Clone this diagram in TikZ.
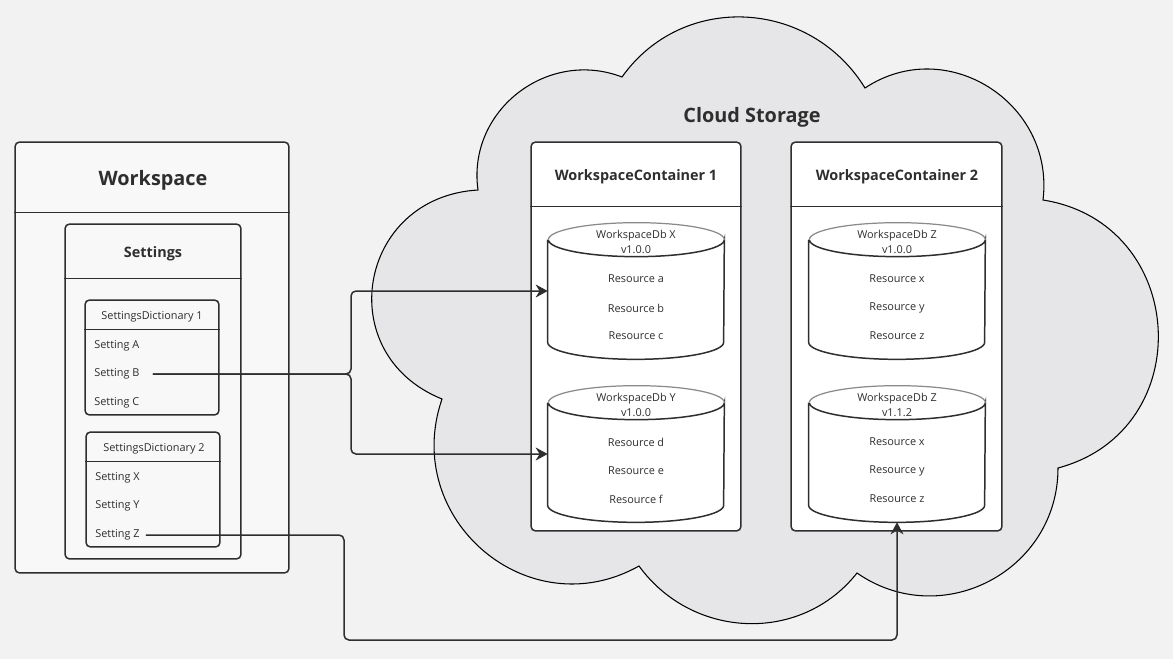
\documentclass[tikz,border=0pt]{standalone}
\usepackage{fontspec}
\setmainfont{Open Sans}
\usetikzlibrary{arrows.meta}

\definecolor{bggray}{HTML}{F2F2F2}
\definecolor{cloudgray}{HTML}{E6E6E8}
\definecolor{panelgray}{HTML}{F8F8F8}
\definecolor{inkgray}{HTML}{2E2E2E}
\definecolor{rimgray}{HTML}{8A8A8A}

\begin{document}
\begin{tikzpicture}[x=0.02cm,y=0.02cm,
  box/.style={draw=inkgray,line width=0.85pt,rounded corners=0.09cm,inner sep=0pt},
  head/.style={font=\fontsize{11.3}{13}\selectfont\bfseries,text=inkgray,yshift=-0.04cm},
  subhead/.style={font=\fontsize{8.2}{10}\selectfont\bfseries,text=inkgray,yshift=-0.04cm},
  entry/.style={font=\fontsize{6.2}{9}\selectfont,text=inkgray,align=center,yshift=-0.04cm},
  setting/.style={entry,anchor=west,inner xsep=0pt},
  dbbody/.style={minimum width=3.52cm,minimum height=2.72cm,inner sep=0pt},
  dbline/.style={draw=inkgray,line width=0.85pt},
  rimline/.style={draw=rimgray,line width=0.7pt},
  link/.style={draw=inkgray,line width=0.85pt,rounded corners=0.1cm,
    -{Stealth[length=0.24cm,width=0.26cm]}}
]

\fill[bggray] (0,0) rectangle (1173,-659);
\useasboundingbox (0,0) rectangle (1173,-659);

% cloud
\draw[fill=cloudgray,draw=black,line width=0.6pt]
  (478,-190) to[out=98,in=159,looseness=1.12] (622,-77)
  to[out=54.6,in=121.6,looseness=1.10] (865,-88)
  to[out=33.6,in=83,looseness=1.19] (1043,-200)
  to[out=-9,in=15,looseness=1.40] (1058,-468)
  to[out=-90,in=-34.8,looseness=1.16] (857,-573)
  to[out=-128.3,in=-54,looseness=1.06] (639,-566)
  to[out=-150.7,in=251,looseness=1.26] (442,-399)
  to[out=158,in=183.3,looseness=1.45] (478,-190) -- cycle;
\node[head] (cloudTitle) at (752,-115) {Cloud Storage};

% workspace
\node[box,fill=panelgray,minimum width=5.48cm,minimum height=8.62cm] (ws) at (152,-357.5) {};
\draw[dbline] ([yshift=-1.42cm]ws.north west) -- ([yshift=-1.42cm]ws.north east);
\node[head] (wsTitle) at (153,-178) {Workspace};

\node[box,fill=panelgray,minimum width=3.52cm,minimum height=6.70cm] (set) at (153,-391.5) {};
\draw[dbline] ([yshift=-1.10cm]set.north west) -- ([yshift=-1.10cm]set.north east);
\node[subhead] (setTitle) at (153,-252) {Settings};

\node[box,fill=panelgray,minimum width=2.68cm,minimum height=2.30cm] (dictA) at (152,-357.5) {};
\draw[dbline] ([yshift=-0.60cm]dictA.north west) -- ([yshift=-0.60cm]dictA.north east);
\node[entry] (dictATitle) at (152,-315) {SettingsDictionary 1};
\node[setting] (sA) at (94,-344) {Setting A};
\node[setting] (sB) at (94,-372) {Setting B};
\node[setting] (sC) at (94,-401) {Setting C};

\node[box,fill=panelgray,minimum width=2.68cm,minimum height=2.30cm] (dictB) at (153,-489.5) {};
\draw[dbline] ([yshift=-0.60cm]dictB.north west) -- ([yshift=-0.60cm]dictB.north east);
\node[entry] (dictBTitle) at (154,-447) {SettingsDictionary 2};
\node[setting] (sX) at (95,-476) {Setting X};
\node[setting] (sY) at (95,-504) {Setting Y};
\node[setting] (sZ) at (95,-533) {Setting Z};

% containers
\node[box,fill=white,minimum width=4.20cm,minimum height=7.78cm] (contA) at (636,-336.5) {};
\draw[dbline] ([yshift=-1.30cm]contA.north west) -- ([yshift=-1.30cm]contA.north east);
\node[subhead] (contATitle) at (636,-175) {WorkspaceContainer 1};

\node[box,fill=white,minimum width=4.22cm,minimum height=7.78cm] (contB) at (896.5,-336.5) {};
\draw[dbline] ([yshift=-1.30cm]contB.north west) -- ([yshift=-1.30cm]contB.north east);
\node[subhead] (contBTitle) at (897,-175) {WorkspaceContainer 2};

% databases
\node[dbbody] (dbX) at (636,-291) {};
\draw[dbline,fill=white] ([yshift=-0.34cm]dbX.north west) -- ([yshift=0.34cm]dbX.south west)
  arc[start angle=180,end angle=360,x radius=1.76cm,y radius=0.34cm]
  -- ([yshift=-0.34cm]dbX.north east)
  arc[start angle=0,end angle=-180,x radius=1.76cm,y radius=0.34cm];
\draw[rimline,fill=white] ([yshift=-0.34cm]dbX.north east)
  arc[start angle=0,end angle=180,x radius=1.76cm,y radius=0.34cm];
\node[entry] (dbXTitle) at (636,-240) {WorkspaceDb X\\v1.0.0};
\node[entry] (rA) at (636,-277) {Resource a};
\node[entry] (rB) at (636,-306) {Resource b};
\node[entry] (rC) at (636,-334) {Resource c};

\node[dbbody] (dbY) at (636,-454) {};
\draw[dbline,fill=white] ([yshift=-0.34cm]dbY.north west) -- ([yshift=0.34cm]dbY.south west)
  arc[start angle=180,end angle=360,x radius=1.76cm,y radius=0.34cm]
  -- ([yshift=-0.34cm]dbY.north east)
  arc[start angle=0,end angle=-180,x radius=1.76cm,y radius=0.34cm];
\draw[rimline,fill=white] ([yshift=-0.34cm]dbY.north east)
  arc[start angle=0,end angle=180,x radius=1.76cm,y radius=0.34cm];
\node[entry] (dbYTitle) at (636,-403) {WorkspaceDb Y\\v1.0.0};
\node[entry] (rD) at (636,-440) {Resource d};
\node[entry] (rE) at (636,-469) {Resource e};
\node[entry] (rF) at (636,-497) {Resource f};

\node[dbbody] (dbZ) at (897,-291) {};
\draw[dbline,fill=white] ([yshift=-0.34cm]dbZ.north west) -- ([yshift=0.34cm]dbZ.south west)
  arc[start angle=180,end angle=360,x radius=1.76cm,y radius=0.34cm]
  -- ([yshift=-0.34cm]dbZ.north east)
  arc[start angle=0,end angle=-180,x radius=1.76cm,y radius=0.34cm];
\draw[rimline,fill=white] ([yshift=-0.34cm]dbZ.north east)
  arc[start angle=0,end angle=180,x radius=1.76cm,y radius=0.34cm];
\node[entry] (dbZTitle) at (897,-240) {WorkspaceDb Z\\v1.0.0};
\node[entry] (rX) at (897,-277) {Resource x};
\node[entry] (rY) at (897,-306) {Resource y};
\node[entry] (rZ) at (897,-334) {Resource z};

\node[dbbody] (dbZnew) at (897,-454) {};
\draw[dbline,fill=white] ([yshift=-0.34cm]dbZnew.north west) -- ([yshift=0.34cm]dbZnew.south west)
  arc[start angle=180,end angle=360,x radius=1.76cm,y radius=0.34cm]
  -- ([yshift=-0.34cm]dbZnew.north east)
  arc[start angle=0,end angle=-180,x radius=1.76cm,y radius=0.34cm];
\draw[rimline,fill=white] ([yshift=-0.34cm]dbZnew.north east)
  arc[start angle=0,end angle=180,x radius=1.76cm,y radius=0.34cm];
\node[entry] (dbZnewTitle) at (897,-403) {WorkspaceDb Z\\v1.1.2};
\node[entry] (rXnew) at (897,-440) {Resource x};
\node[entry] (rYnew) at (897,-469) {Resource y};
\node[entry] (rZnew) at (897,-497) {Resource z};

% links
\coordinate (bFork) at (351,-371);
\coordinate (zBend) at (344,-640);
\draw[link,shorten <=0.26cm] (sB.east) -| (bFork |- dbX.west) -- (dbX.west);
\draw[link,shorten <=0.26cm] (sB.east) -| (bFork |- dbY.west) -- (dbY.west);
\draw[link,shorten <=0.12cm] (sZ.east) -| (zBend) -| (dbZnew.south);

\end{tikzpicture}
\end{document}
